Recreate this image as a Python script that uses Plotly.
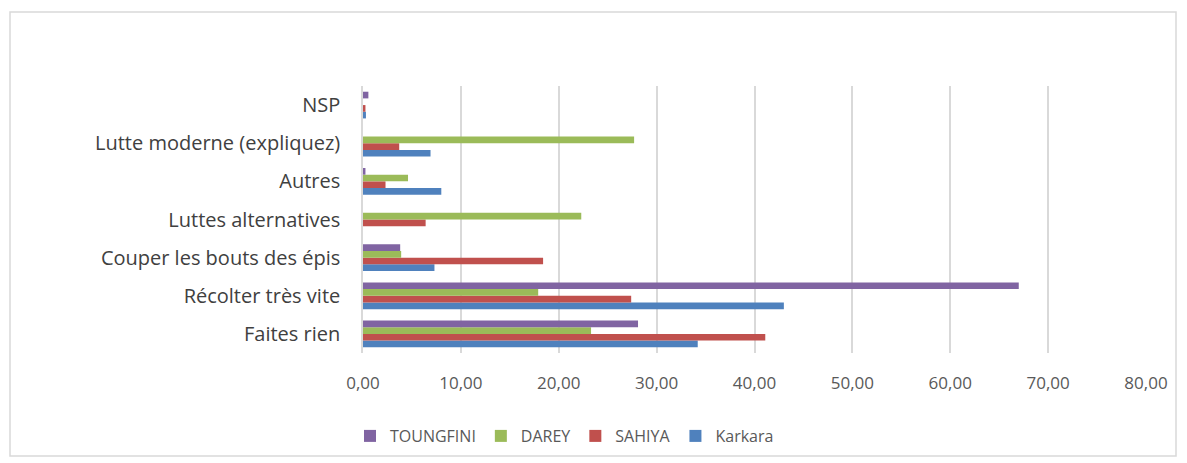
import plotly.graph_objects as go

categories = ["Faites rien", "Récolter très vite", "Couper les bouts des épis",
              "Luttes alternatives", "Autres", "Lutte moderne (expliquez)", "NSP"]
karkara = [34.2, 43.0, 7.3, 0.0, 8.0, 6.9, 0.3]
sahiya = [41.1, 27.4, 18.4, 6.4, 2.3, 3.7, 0.25]
darey = [23.3, 17.9, 3.9, 22.3, 4.6, 27.7, 0.0]
toungfini = [28.1, 67.0, 3.8, 0.0, 0.25, 0.0, 0.55]
x_ticks = [0, 10, 20, 30, 40, 50, 60, 70, 80]

series = [("Karkara", karkara, "#4F81BD"),
          ("SAHIYA", sahiya, "#C0504D"),
          ("DAREY", darey, "#9BBB59"),
          ("TOUNGFINI", toungfini, "#8064A2")]

fig = go.Figure()
for name, vals, col in series:
    fig.add_trace(go.Bar(y=categories, x=vals, name=name, orientation="h",
                         marker=dict(color=col, line=dict(width=0))))

OFF = 8  # default page body margin
W, H = 1187 - OFF, 463 - OFF
L, R, T, B = 363 - OFF, 1146 - OFF, 86 - OFF, 353 - OFF
pw, ph = R - L, B - T


def px(x):
    return (x - OFF - L) / pw


def py(y):
    return (B - (y - OFF)) / ph


fig.update_layout(
    width=W, height=H,
    margin=dict(l=L, r=W - R, t=T, b=H - B, autoexpand=False),
    paper_bgcolor="white", plot_bgcolor="white",
    barmode="group", bargap=0.3, bargroupgap=0,
    separators=",.",
    font=dict(family="Open Sans", color="#404040"),
    xaxis=dict(range=[0, 80], tickvals=x_ticks, tickformat=".2f",
               showgrid=True, gridcolor="#d9d9d9", gridwidth=1.5,
               zeroline=False, showline=False, automargin=False,
               tickfont=dict(size=17, color="#595959"),
               ticks="", ticklabelstandoff=18),
    yaxis=dict(categoryorder="array", categoryarray=categories,
               showgrid=False, zeroline=False, automargin=False,
               showline=True, linecolor="#d9d9d9", linewidth=1.5,
               tickfont=dict(size=20, color="#404040"),
               ticks="", ticklabelstandoff=17),
    legend=dict(orientation="h", traceorder="reversed",
                x=px(350), xanchor="left",
                y=py(436), yanchor="middle",
                font=dict(size=16, color="#595959"),
                itemwidth=30),
    shapes=[dict(type="rect", xref="paper", yref="paper",
                 x0=px(10), x1=px(1176),
                 y0=py(456), y1=py(12),
                 line=dict(color="#d9d9d9", width=1.5), fillcolor="rgba(0,0,0,0)",
                 layer="below")],
)

fig.write_html("out.html")
